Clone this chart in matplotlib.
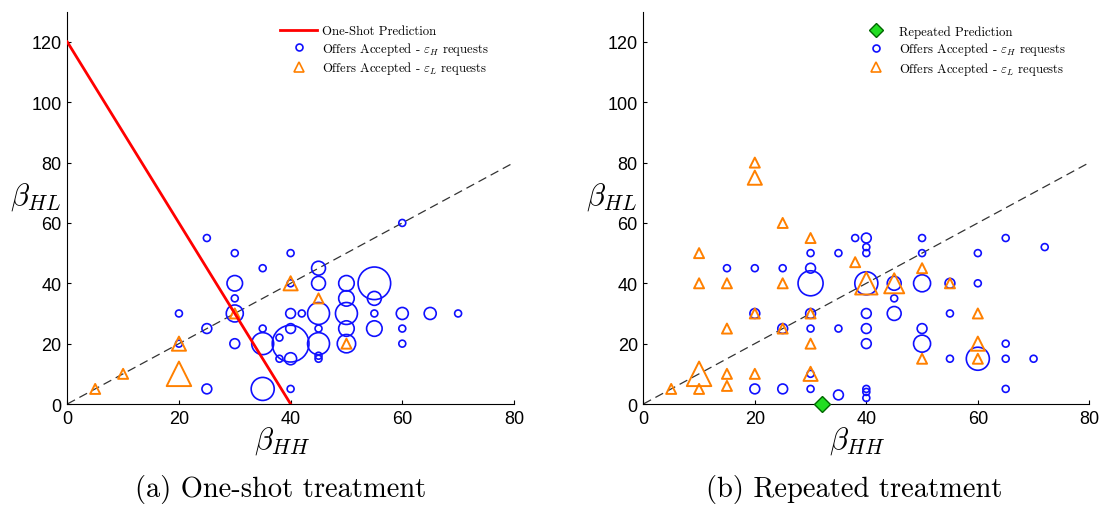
import matplotlib
matplotlib.use("Agg")
import matplotlib.pyplot as plt
from matplotlib.font_manager import FontProperties
from matplotlib.lines import Line2D

plt.rcParams["mathtext.fontset"] = "cm"
plt.rcParams["axes.unicode_minus"] = False

# Offers accepted, one-shot treatment: (beta_HH, beta_HL, number of offers)
os_high_x = [25, 30, 40, 35, 45, 60, 30, 45, 50, 55, 40, 30, 50, 55,
             20, 30, 40, 42, 45, 50, 55, 60, 65, 70,
             25, 35, 40, 45, 50, 55, 60, 38,
             20, 30, 35, 40, 45, 50, 60,
             38, 40, 45, 45, 25, 35, 40]
os_high_y = [55, 50, 50, 45, 45, 60, 40, 40, 40, 40, 40, 35, 35, 35,
             30, 30, 30, 30, 30, 30, 30, 30, 30, 30,
             25, 25, 25, 25, 25, 25, 25, 22,
             20, 20, 20, 20, 20, 20, 20,
             15, 15, 15, 16, 5, 5, 5]
os_high_n = [1, 1, 1, 1, 4, 1, 5, 4, 5, 22, 1, 1, 5, 4,
             1, 6, 2, 1, 10, 10, 1, 3, 3, 1,
             2, 1, 2, 1, 5, 5, 1, 1,
             1, 2, 10, 28, 10, 7, 1,
             1, 3, 1, 1, 2, 11, 1]

os_low_x = [5, 10, 20, 20, 30, 40, 45, 50]
os_low_y = [5, 10, 10, 20, 30, 40, 35, 20]
os_low_n = [1, 1, 6, 2, 1, 2, 1, 1]

# Offers accepted, repeated treatment
rp_high_x = [38, 40, 40, 40, 50, 65, 72,
             30, 35, 50, 60,
             15, 20, 25, 30, 45,
             30, 40, 45, 50, 55, 60,
             20, 30, 40, 45, 55,
             25, 30, 35, 40, 50,
             40, 50, 65,
             55, 60, 65, 70, 30,
             20, 25, 30, 40, 40, 40, 65, 35]
rp_high_y = [55, 55, 52, 50, 55, 55, 52,
             50, 50, 50, 50,
             45, 45, 45, 45, 35,
             40, 40, 40, 40, 40, 40,
             30, 30, 30, 30, 30,
             25, 25, 25, 25, 25,
             20, 20, 20,
             15, 15, 15, 15, 10,
             5, 5, 5, 5, 4, 2, 5, 3]
rp_high_n = [1, 2, 1, 1, 1, 1, 1,
             1, 1, 1, 1,
             1, 1, 1, 2, 1,
             13, 11, 4, 6, 2, 1,
             2, 2, 2, 4, 1,
             2, 1, 1, 2, 2,
             2, 6, 1,
             1, 11, 1, 1, 1,
             2, 2, 1, 1, 1, 1, 1, 2]

rp_low_x = [20, 20, 25, 30, 10, 38, 50,
            10, 15, 25, 40, 45, 55,
            20, 30, 60, 15, 25, 30, 60,
            10, 15, 20, 30, 50, 60,
            5, 10, 15]
rp_low_y = [80, 75, 60, 55, 50, 47, 45,
            40, 40, 40, 40, 40, 40,
            30, 30, 30, 25, 25, 20, 20,
            10, 10, 10, 10, 15, 15,
            5, 5, 6]
rp_low_n = [1, 2, 1, 1, 1, 1, 1,
            1, 1, 1, 5, 4, 1,
            1, 1, 1, 1, 1, 1, 2,
            6, 1, 1, 2, 1, 1,
            1, 1, 1]

# Theoretical predictions and 45-degree reference line
oneshot_pred_x = [0, 40]
oneshot_pred_y = [120, 0]
repeated_pred_x = [32]
repeated_pred_y = [0]
diag_x = [0, 80]
diag_y = [0, 80]

BLUE = "#1010ff"
ORANGE = "#ff8000"
CIRCLE_S = 25
TRI_S = 52

cm_small = FontProperties(family="cmr10", size=9.2)


def draw_panel(ax, hx, hy, hn, lx, ly, ln):
    ax.plot(diag_x, diag_y, color="#333333", lw=0.9, dashes=(7, 4), zorder=1)
    ax.scatter(hx, hy, s=[CIRCLE_S * n for n in hn], facecolors="none",
               edgecolors=BLUE, linewidths=1.2, zorder=2)
    ax.scatter(lx, ly, s=[TRI_S * n for n in ln], marker="^", facecolors="none",
               edgecolors=ORANGE, linewidths=1.4, zorder=3)
    ax.set_xlim(0, 80)
    ax.set_ylim(0, 130)
    ax.set_xticks([0, 20, 40, 60, 80])
    ax.set_yticks([0, 20, 40, 60, 80, 100, 120])
    for side in ("top", "right"):
        ax.spines[side].set_visible(False)
    ax.tick_params(direction="in", length=3, width=0.8, labelsize=13, pad=4)
    for lab in ax.get_xticklabels() + ax.get_yticklabels():
        lab.set_family("Liberation Sans")
    ax.set_xlabel(r"$\beta_{HH}$", fontsize=22, labelpad=0)
    ax.set_ylabel(r"$\beta_{HL}$", fontsize=22, rotation=0, ha="center", va="center")
    ax.xaxis.set_label_coords(0.48, -0.052)
    ax.yaxis.set_label_coords(-0.072, 0.53)


fig = plt.figure(figsize=(11.01, 5.06), dpi=100)
ax1 = fig.add_axes([0.0611, 0.1996, 0.4057, 0.7753])
ax2 = fig.add_axes([0.5843, 0.1996, 0.4051, 0.7753])

draw_panel(ax1, os_high_x, os_high_y, os_high_n, os_low_x, os_low_y, os_low_n)
ax1.plot(oneshot_pred_x, oneshot_pred_y, color="red", lw=2, zorder=4)

draw_panel(ax2, rp_high_x, rp_high_y, rp_high_n, rp_low_x, rp_low_y, rp_low_n)
ax2.plot(repeated_pred_x, repeated_pred_y, "D", ms=8, mfc="#22dd22",
         mec="#006600", mew=1, zorder=5, clip_on=False)

circ_h = Line2D([], [], ls="none", marker="o", ms=5, mfc="none", mec=BLUE, mew=1.2)
tri_h = Line2D([], [], ls="none", marker="^", ms=7, mfc="none", mec=ORANGE, mew=1.2)
lab_h = r"Offers Accepted - $\varepsilon_H$ requests"
lab_l = r"Offers Accepted - $\varepsilon_L$ requests"

line_h = Line2D([], [], color="red", lw=2)
ax1.legend([line_h, circ_h, tri_h], ["One-Shot Prediction", lab_h, lab_l],
           loc="upper left", bbox_to_anchor=(280 / 1101, 1 - 26 / 506),
           bbox_transform=fig.transFigure, frameon=False, prop=cm_small,
           handlelength=2.9, handletextpad=0.4, labelspacing=0.2,
           borderpad=0, borderaxespad=0)

diam_h = Line2D([], [], ls="none", marker="D", ms=7, mfc="#22dd22", mec="#006600", mew=1)
ax2.legend([diam_h, circ_h, tri_h], ["Repeated Prediction", lab_h, lab_l],
           loc="upper left", bbox_to_anchor=(857 / 1101, 1 - 26 / 506),
           bbox_transform=fig.transFigure, frameon=False, prop=cm_small,
           handlelength=2.9, handletextpad=0.4, labelspacing=0.2,
           borderpad=0, borderaxespad=0)

fig.text(0.255, 0.032, "(a) One-shot treatment", family="cmr10", fontsize=20.5,
         ha="center", va="center")
fig.text(0.776, 0.032, "(b) Repeated treatment", family="cmr10", fontsize=20.5,
         ha="center", va="center")

fig.savefig("out.png", dpi=100)
